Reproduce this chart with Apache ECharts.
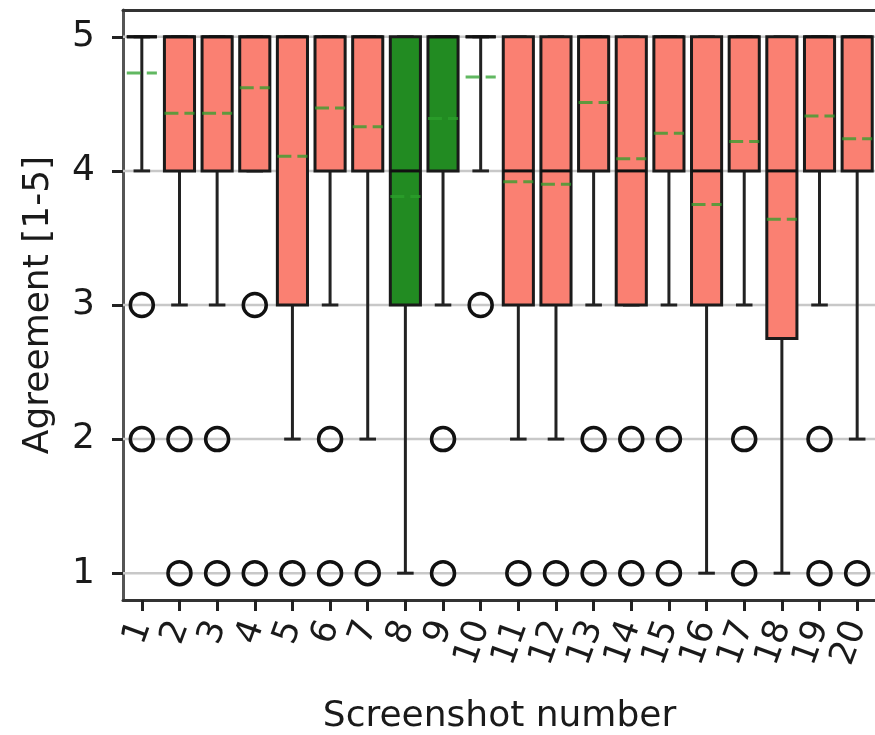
<!DOCTYPE html>
<html>
<head>
<meta charset="utf-8">
<script src="https://cdn.jsdelivr.net/npm/echarts@6/dist/echarts.min.js"></script>
<style>
html,body{margin:0;padding:0;background:#fff;}
#chart{width:875px;height:735px;}
</style>
</head>
<body>
<div id="chart"></div>
<script>
// ---- data ----
const categories = ['1','2','3','4','5','6','7','8','9','10','11','12','13','14','15','16','17','18','19','20'];
const q1        = [5, 4, 4, 4, 3, 4, 4, 3, 4, 5, 3, 3, 4, 3, 4, 3, 4, 2.75, 4, 4];
const q3        = [5, 5, 5, 5, 5, 5, 5, 5, 5, 5, 5, 5, 5, 5, 5, 5, 5, 5, 5, 5];
const medians   = [5, 5, 5, 5, 5, 5, 5, 4, 5, 5, 4, 4, 5, 4, 5, 4, 5, 4, 5, 5];
const whiskLow  = [4, 3, 3, 4, 2, 3, 2, 1, 3, 4, 2, 2, 3, 3, 3, 1, 3, 1, 3, 2];
const whiskHigh = [5, 5, 5, 5, 5, 5, 5, 5, 5, 5, 5, 5, 5, 5, 5, 5, 5, 5, 5, 5];
const means     = [4.73, 4.43, 4.43, 4.62, 4.11, 4.47, 4.33, 3.81, 4.39, 4.70, 3.92, 3.90, 4.51, 4.09, 4.28, 3.75, 4.22, 3.64, 4.41, 4.24];
const groups    = ['none','red','red','red','red','red','red','green','green','none','red','red','red','red','red','red','red','red','red','red'];
const outliers  = [[3,2],[2,1],[2,1],[3,1],[1],[2,1],[1],[],[2,1],[3],[1],[1],[2,1],[2,1],[2,1],[],[2,1],[],[2,1],[1]];
const yTicks    = [1, 2, 3, 4, 5];

// ---- styles ----
const fillFor = {none: 'rgba(0,0,0,0)', red: '#fa8072', green: '#228b22'};
const FONT = 'DejaVu Sans';
const INK = '#1a1a1a';

const boxData = categories.map((c, i) => [i, q1[i], q3[i], medians[i], whiskLow[i], whiskHigh[i], means[i]]);
const outlierData = [];
outliers.forEach((arr, i) => arr.forEach(v => outlierData.push([i, v])));
const gridData = yTicks.map(v => [0, v]);

const chart = echarts.init(document.getElementById('chart'), null, {renderer: 'canvas'});

function line(x1, y1, x2, y2, style) {
  return {type: 'line', shape: {x1, y1, x2, y2}, style};
}

const option = {
  animation: false,
  backgroundColor: '#fff',
  grid: {left: 123, top: 10, width: 753, height: 590, containLabel: false, outerBoundsMode: 'none'},
  xAxis: [{
    type: 'category',
    data: categories,
    position: 'bottom',
    boundaryGap: true,
    axisLine: {show: true, onZero: false, lineStyle: {color: '#333', width: 3}},
    axisTick: {show: true, alignWithLabel: true, length: 11, lineStyle: {color: '#222', width: 3}},
    axisLabel: {interval: 0, rotate: 70, fontSize: 35, fontFamily: FONT, color: INK, margin: 22, hideOverlap: false},
    splitLine: {show: false},
    name: 'Screenshot number',
    nameLocation: 'middle',
    nameGap: 99,
    nameTextStyle: {fontSize: 36, fontFamily: FONT, color: INK}
  }, {
    type: 'category',
    data: categories,
    position: 'top',
    boundaryGap: true,
    axisLine: {show: true, onZero: false, lineStyle: {color: '#333', width: 3}},
    axisTick: {show: false},
    axisLabel: {show: false},
    splitLine: {show: false}
  }],
  yAxis: [{
    type: 'value',
    min: 0.8,
    max: 5.2,
    axisLine: {show: true, onZero: false, lineStyle: {color: '#555', width: 3}},
    axisTick: {show: true, customValues: yTicks, length: 11, lineStyle: {color: '#222', width: 3}},
    axisLabel: {show: true, customValues: yTicks, fontSize: 36, fontFamily: FONT, color: INK, margin: 28},
    splitLine: {show: false},
    name: 'Agreement [1-5]',
    nameLocation: 'middle',
    nameRotate: 90,
    nameGap: 66,
    nameTextStyle: {fontSize: 36, fontFamily: FONT, color: INK}
  }],
  series: [
    {
      // horizontal grid lines
      type: 'custom',
      z: 1,
      silent: true,
      data: gridData,
      encode: {x: 0, y: 1},
      renderItem: function (params, api) {
        const cs = params.coordSys;
        const y = api.coord([0, api.value(1)])[1];
        return line(cs.x, y, cs.x + cs.width, y, {stroke: '#c8c8c8', lineWidth: 2.5});
      }
    },
    {
      // boxes, whiskers, caps, medians, means
      type: 'custom',
      z: 3,
      silent: true,
      data: boxData,
      encode: {x: 0, y: [1, 2, 3, 4, 5, 6]},
      renderItem: function (params, api) {
        const i = api.value(0);
        const band = api.size([1, 0])[0];
        const half = band * 0.4;
        const capHalf = band * 0.22;
        const cx = api.coord([i, 0])[0];
        const yq1 = api.coord([i, api.value(1)])[1];
        const yq3 = api.coord([i, api.value(2)])[1];
        const ymed = api.coord([i, api.value(3)])[1];
        const ylo = api.coord([i, api.value(4)])[1];
        const yhi = api.coord([i, api.value(5)])[1];
        const ymean = api.coord([i, api.value(6)])[1];
        const wStyle = {stroke: '#222', lineWidth: 3};
        const grp = groups[params.dataIndex];
        return {
          type: 'group',
          children: [
            line(cx, yq1, cx, ylo, wStyle),
            line(cx, yq3, cx, yhi, wStyle),
            line(cx - capHalf, ylo, cx + capHalf, ylo, wStyle),
            line(cx - capHalf, yhi, cx + capHalf, yhi, wStyle),
            {type: 'rect', shape: {x: cx - half, y: yq3, width: half * 2, height: yq1 - yq3},
             style: {fill: fillFor[grp], stroke: '#1a1a1a', lineWidth: 3}},
            line(cx - half, ymed, cx + half, ymed, {stroke: '#111', lineWidth: 3}),
            line(cx - half, ymean, cx + half, ymean, {stroke: '#2ca02c', lineWidth: 3, lineDash: [14, 6], opacity: 0.75})
          ]
        };
      }
    },
    {
      // outliers
      type: 'scatter',
      z: 4,
      silent: true,
      symbol: 'circle',
      symbolSize: 23,
      data: outlierData,
      itemStyle: {color: 'rgba(0,0,0,0)', borderColor: '#111', borderWidth: 3.5, opacity: 1}
    }
  ]
};
chart.setOption(option);
</script>
</body>
</html>
